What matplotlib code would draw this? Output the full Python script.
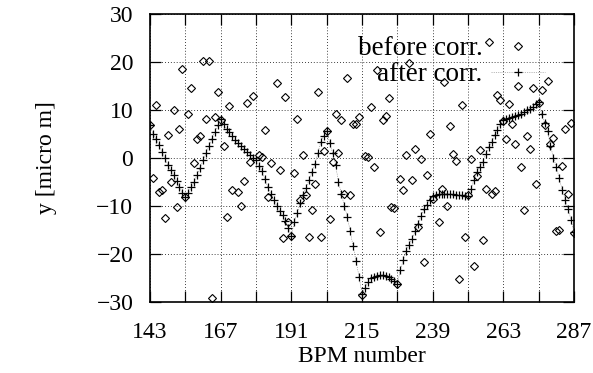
import matplotlib
matplotlib.use('Agg')
import matplotlib.pyplot as plt
from matplotlib.ticker import FixedLocator

plt.rcParams['font.family'] = ['Liberation Serif', 'DejaVu Serif']

# ---- data ----
before_bpm = [143, 144, 145, 146, 147, 148, 149, 150, 151, 152, 153, 154, 155, 156, 157,
              158, 159, 160, 161, 162, 163, 164, 165, 166, 167, 168, 169, 170, 171, 173,
              174, 175, 176, 177, 178, 180, 181, 182, 183, 184, 186, 187, 188, 189, 190,
              191, 192, 193, 194, 195, 196, 197, 198, 199, 200, 201, 202, 203, 204, 205,
              206, 207, 208, 209, 210, 211, 212, 213, 214, 215, 216, 217, 218, 219, 220,
              221, 222, 223, 224, 225, 226, 227, 228, 229, 230, 231, 232, 233, 234, 235,
              236, 237, 238, 239, 241, 242, 243, 244, 245, 246, 247, 248, 249, 250, 251,
              252, 253, 254, 255, 256, 257, 258, 259, 260, 261, 262, 263, 264, 265, 266,
              267, 268, 269, 270, 271, 272, 273, 274, 275, 276, 277, 278, 279, 280, 281,
              282, 283, 284, 285, 286, 287]
before_y = [6.7, -4.3, 11.0, -7.2, -6.7, -12.6, 4.6, -5.1, 9.8, -10.3, 6.0, 18.5, -8.3, 9.0, 14.5,
            -1.2, 3.9, 4.4, 20.2, 8.1, 20.1, -29.2, 8.5, 13.6, 7.8, 2.5, -12.3, 10.8, -6.7, -7.2,
            -10.2, -4.9, 11.3, -1.0, 12.9, 0.6, 0.1, 5.8, -8.3, -1.2, 15.5, -2.6, -16.7, 12.7, -13.4,
            -16.4, -3.3, 8.0, -8.8, 0.6, -7.9, -16.6, -10.9, -5.6, 13.6, -16.6, 1.3, 5.5, -12.8, -1.0,
            9.0, 0.9, 7.8, -7.6, 16.5, -7.9, 6.9, 7.0, 8.5, -28.7, 0.4, 0.1, 10.5, -1.9, 18.2,
            -15.6, 7.8, 8.7, 12.4, -10.4, -10.5, -26.4, -4.4, -6.8, 0.6, 19.6, -4.7, 1.8, -14.4, -0.3,
            -21.7, -3.6, 4.9, -8.6, -13.4, -6.5, 15.7, -10.1, 6.6, 0.7, -0.8, -25.3, 10.9, -16.6, -7.9,
            -0.4, -22.5, -3.8, 1.5, -17.1, -6.6, 24.0, -7.6, -6.9, 13.0, 11.9, 7.7, 3.9, 11.1, 7.0,
            2.8, 15.0, -1.9, -11.0, 4.4, 1.8, 14.5, -5.5, 11.3, 14.0, 6.7, 16.0, 2.9, 4.1, -15.4,
            -15.0, -1.8, 6.0, -7.5, 7.1, -15.7]

after_bpm = list(range(143, 288))
after_y = [6.7, 4.9, 3.9, 2.6, 1.2, 0.0, -1.5, -2.6, -3.6, -4.9, -6.2, -7.3, -8.3,
           -7.4, -6.2, -5.1, -3.6, -2.1, -0.6, 0.9, 2.4, 3.9, 5.3, 6.7, 8.0,
           7.0, 6.0, 5.3, 4.4, 3.7, 3.0, 2.5, 1.8, 1.2, 0.6, 0.0, -0.6, -1.7, -2.8, -4.4,
           -6.2, -7.6, -8.8, -10.0, -11.2, -12.0, -13.3, -14.6, -16.3,
           -13.5, -11.5, -9.5, -7.8, -6.3, -4.6, -3.0, -1.3, 0.9, 3.3, 4.5, 5.6,
           3.0, 1.0, -1.5, -5.0, -7.6, -10.0, -12.3, -15.4, -18.5, -21.5, -24.8, -28.5,
           -27.2, -26.0, -25.2, -24.8, -24.6, -24.5, -24.5, -24.6, -24.9, -25.3, -25.7, -26.3,
           -23.5, -21.4, -19.4, -18.2, -16.9, -15.4, -13.8, -12.2, -10.8, -9.8, -8.8, -8.1,
           -7.8, -7.7, -7.6, -7.6, -7.6, -7.7, -7.7, -7.8, -7.8, -7.9, -8.0, -8.0,
           -6.6, -4.6, -3.0, -2.0, -0.9, 0.8, 2.1, 3.3, 4.6, 5.8, 7.0, 7.8,
           8.0, 8.2, 8.4, 8.6, 8.8, 9.1, 9.4, 9.8, 10.2, 10.6, 11.1, 11.6,
           9.0, 7.2, 5.5, 2.5, 0.0, -1.9, -4.3, -6.8, -8.8, -10.7, -13.0, -15.6]

x_major = [143, 167, 191, 215, 239, 263, 287]
x_minor = [155, 179, 203, 227, 251, 275]
y_ticks = [-30, -20, -10, 0, 10, 20, 30]
labels = ['before corr.', 'after corr.']

# ---- figure ----
W, H = 593, 373
fig = plt.figure(figsize=(W / 100, H / 100), dpi=100)
ax = fig.add_axes([150 / W, 1 - 301.5 / H, 424 / W, 288 / H])

ax.plot(before_bpm, before_y, linestyle='none', marker='D', markersize=4.4,
        markerfacecolor='none', markeredgecolor='black', markeredgewidth=0.8,
        label=labels[0], zorder=3)
ax.plot(after_bpm, after_y, linestyle=(0, (2, 2)), linewidth=0.4, color='0.5',
        marker='+', markersize=6.2, markeredgecolor='black', markeredgewidth=0.9,
        label=labels[1], zorder=4)

ax.set_xlim(143, 287)
ax.set_ylim(-30, 30)
ax.xaxis.set_major_locator(FixedLocator(x_major))
ax.xaxis.set_minor_locator(FixedLocator(x_minor))
ax.yaxis.set_major_locator(FixedLocator(y_ticks))
ax.tick_params(which='both', direction='in', length=8, width=0.9,
               top=True, right=True, labelsize=17, pad=12)
ax.tick_params(axis='x', which='both', pad=15)
ax.grid(True, which='both', axis='x', color='black', linestyle=(0, (1, 2.5)), linewidth=0.6)
ax.grid(True, which='major', axis='y', color='black', linestyle=(0, (1, 2.5)), linewidth=0.6)
for s in ax.spines.values():
    s.set_linewidth(1.2)

ax.set_xlabel('BPM number', fontsize=17, labelpad=2)
ax.set_ylabel('y [micro m]', fontsize=17, labelpad=28)

ax.legend(loc='upper right', bbox_to_anchor=(545 / W, 1 - 36 / H),
          bbox_transform=fig.transFigure, frameon=False, markerfirst=False,
          fontsize=19.5, handlelength=2.0, handletextpad=0.3, labelspacing=0.05,
          borderpad=0, borderaxespad=0)

fig.savefig('out.png', dpi=100)
